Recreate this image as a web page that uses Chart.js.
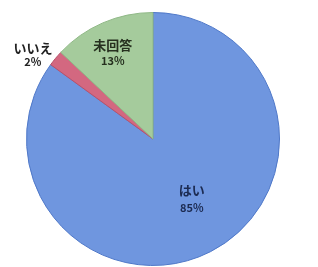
<!DOCTYPE html>
<html>
<head>
<meta charset="utf-8">
<script src="https://cdn.jsdelivr.net/npm/chart.js@4"></script>
<style>
  html, body { margin: 0; padding: 0; background: #fff; }
  #wrap { width: 318px; height: 267px; }
</style>
</head>
<body>
<div id="wrap"><canvas id="myChart" width="318" height="267"></canvas></div>
<script>
// data
const categories = ["はい", "いいえ", "未回答"];
const percents = [85, 2, 13];

const sliceColors = ["#6f96df", "#d36880", "#a5cb9c"];
const edgeColors = ["#4f78c8", "#b8506a", "#8fb886"];
// where each label sits, as a fraction of the radius from the centre, plus a small nudge
const labelDist = [0.57, 1.15, 0.74];
const labelNudge = [[6, -4], [-8, 9], [-3, 0]];
const labelGap = [9, 7, 8];
const labelColors = ["#1c2b52", "#222222", "#26301f"];

// draws the category name and percent for every slice
const sliceLabels = {
  id: "sliceLabels",
  afterDatasetsDraw(chart) {
    const ctx = chart.ctx;
    const meta = chart.getDatasetMeta(0);
    meta.data.forEach(function(arc, i) {
      const mid = (arc.startAngle + arc.endAngle) / 2;
      const r = arc.outerRadius * labelDist[i];
      const x = arc.x + Math.cos(mid) * r + labelNudge[i][0];
      const y = arc.y + Math.sin(mid) * r + labelNudge[i][1];
      ctx.save();
      ctx.fillStyle = labelColors[i];
      ctx.textAlign = "center";
      ctx.textBaseline = "middle";
      ctx.font = "bold 13px 'Noto Sans CJK JP'";
      ctx.fillText(categories[i], x, y - labelGap[i]);
      ctx.font = "bold 11px 'Noto Sans CJK JP'";
      ctx.fillText(percents[i] + "%", x, y + labelGap[i]);
      ctx.restore();
    });
  }
};

new Chart("myChart", {
  type: "pie",
  data: {
    labels: categories,
    datasets: [{
      data: percents,
      backgroundColor: sliceColors,
      borderColor: edgeColors,
      borderWidth: 1
    }]
  },
  options: {
    responsive: false,
    animation: false,
    layout: { padding: { top: 12, bottom: 1, left: 0, right: 12 } },
    plugins: {
      legend: { display: false },
      tooltip: { enabled: false }
    }
  },
  plugins: [sliceLabels]
});
</script>
</body>
</html>
